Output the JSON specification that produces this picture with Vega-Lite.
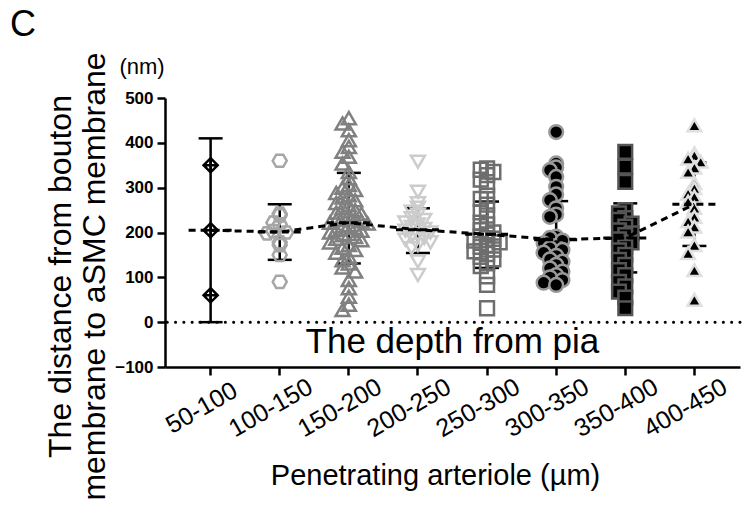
{
  "$schema": "https://vega.github.io/schema/vega-lite/v6.json",
  "width": 575,
  "height": 269,
  "autosize": "none",
  "padding": {"left": 165, "top": 98, "right": 7, "bottom": 139},
  "background": "white",
  "title": {"text": "C", "anchor": "start", "frame": "group", "fontSize": 36, "fontWeight": "normal", "color": "black", "dx": -155, "dy": -8, "offset": 0},
  "config": {
    "view": {"stroke": null},
    "font": "Liberation Sans",
    "axis": {"grid": false, "domainColor": "black", "domainWidth": 2.5, "tickColor": "black", "tickWidth": 2.5, "tickSize": 8, "labelColor": "black", "titleColor": "black", "titleFontWeight": "normal"}
  },
  "datasets": {
    "points": [
      {"cat": "50-100", "v": 60}, {"cat": "50-100", "v": 205}, {"cat": "50-100", "v": 350},
      {"cat": "100-150", "v": 360}, {"cat": "100-150", "v": 242}, {"cat": "100-150", "v": 238}, {"cat": "100-150", "v": 222}, {"cat": "100-150", "v": 218}, {"cat": "100-150", "v": 203}, {"cat": "100-150", "v": 200}, {"cat": "100-150", "v": 198}, {"cat": "100-150", "v": 178}, {"cat": "100-150", "v": 172}, {"cat": "100-150", "v": 150}, {"cat": "100-150", "v": 90},
      {"cat": "150-200", "v": 455}, {"cat": "150-200", "v": 443}, {"cat": "150-200", "v": 428}, {"cat": "150-200", "v": 406}, {"cat": "150-200", "v": 391}, {"cat": "150-200", "v": 380}, {"cat": "150-200", "v": 369}, {"cat": "150-200", "v": 354}, {"cat": "150-200", "v": 335}, {"cat": "150-200", "v": 321}, {"cat": "150-200", "v": 306}, {"cat": "150-200", "v": 300}, {"cat": "150-200", "v": 295}, {"cat": "150-200", "v": 288}, {"cat": "150-200", "v": 283}, {"cat": "150-200", "v": 278}, {"cat": "150-200", "v": 272}, {"cat": "150-200", "v": 266}, {"cat": "150-200", "v": 261}, {"cat": "150-200", "v": 255}, {"cat": "150-200", "v": 250}, {"cat": "150-200", "v": 245}, {"cat": "150-200", "v": 242}, {"cat": "150-200", "v": 239}, {"cat": "150-200", "v": 234}, {"cat": "150-200", "v": 230}, {"cat": "150-200", "v": 228}, {"cat": "150-200", "v": 225}, {"cat": "150-200", "v": 222}, {"cat": "150-200", "v": 220}, {"cat": "150-200", "v": 217}, {"cat": "150-200", "v": 214}, {"cat": "150-200", "v": 210}, {"cat": "150-200", "v": 206}, {"cat": "150-200", "v": 204}, {"cat": "150-200", "v": 200}, {"cat": "150-200", "v": 197}, {"cat": "150-200", "v": 194}, {"cat": "150-200", "v": 190}, {"cat": "150-200", "v": 186}, {"cat": "150-200", "v": 183}, {"cat": "150-200", "v": 178}, {"cat": "150-200", "v": 172}, {"cat": "150-200", "v": 166}, {"cat": "150-200", "v": 161}, {"cat": "150-200", "v": 155}, {"cat": "150-200", "v": 146}, {"cat": "150-200", "v": 138}, {"cat": "150-200", "v": 131}, {"cat": "150-200", "v": 122}, {"cat": "150-200", "v": 113}, {"cat": "150-200", "v": 94}, {"cat": "150-200", "v": 76}, {"cat": "150-200", "v": 57}, {"cat": "150-200", "v": 39}, {"cat": "150-200", "v": 27},
      {"cat": "200-250", "v": 358}, {"cat": "200-250", "v": 291}, {"cat": "200-250", "v": 265}, {"cat": "200-250", "v": 255}, {"cat": "200-250", "v": 246}, {"cat": "200-250", "v": 240}, {"cat": "200-250", "v": 232}, {"cat": "200-250", "v": 228}, {"cat": "200-250", "v": 222}, {"cat": "200-250", "v": 218}, {"cat": "200-250", "v": 212}, {"cat": "200-250", "v": 208}, {"cat": "200-250", "v": 204}, {"cat": "200-250", "v": 200}, {"cat": "200-250", "v": 196}, {"cat": "200-250", "v": 192}, {"cat": "200-250", "v": 188}, {"cat": "200-250", "v": 184}, {"cat": "200-250", "v": 178}, {"cat": "200-250", "v": 172}, {"cat": "200-250", "v": 165}, {"cat": "200-250", "v": 135}, {"cat": "200-250", "v": 105},
      {"cat": "250-300", "v": 343}, {"cat": "250-300", "v": 340}, {"cat": "250-300", "v": 335}, {"cat": "250-300", "v": 328}, {"cat": "250-300", "v": 318}, {"cat": "250-300", "v": 305}, {"cat": "250-300", "v": 282}, {"cat": "250-300", "v": 275}, {"cat": "250-300", "v": 262}, {"cat": "250-300", "v": 245}, {"cat": "250-300", "v": 238}, {"cat": "250-300", "v": 222}, {"cat": "250-300", "v": 218}, {"cat": "250-300", "v": 205}, {"cat": "250-300", "v": 200}, {"cat": "250-300", "v": 196}, {"cat": "250-300", "v": 190}, {"cat": "250-300", "v": 186}, {"cat": "250-300", "v": 182}, {"cat": "250-300", "v": 178}, {"cat": "250-300", "v": 172}, {"cat": "250-300", "v": 168}, {"cat": "250-300", "v": 162}, {"cat": "250-300", "v": 158}, {"cat": "250-300", "v": 152}, {"cat": "250-300", "v": 146}, {"cat": "250-300", "v": 140}, {"cat": "250-300", "v": 131}, {"cat": "250-300", "v": 125}, {"cat": "250-300", "v": 102}, {"cat": "250-300", "v": 83}, {"cat": "250-300", "v": 31},
      {"cat": "300-350", "v": 424}, {"cat": "300-350", "v": 354}, {"cat": "300-350", "v": 345}, {"cat": "300-350", "v": 339}, {"cat": "300-350", "v": 324}, {"cat": "300-350", "v": 302}, {"cat": "300-350", "v": 285}, {"cat": "300-350", "v": 272}, {"cat": "300-350", "v": 254}, {"cat": "300-350", "v": 240}, {"cat": "300-350", "v": 235}, {"cat": "300-350", "v": 191}, {"cat": "300-350", "v": 188}, {"cat": "300-350", "v": 182}, {"cat": "300-350", "v": 176}, {"cat": "300-350", "v": 170}, {"cat": "300-350", "v": 165}, {"cat": "300-350", "v": 161}, {"cat": "300-350", "v": 155}, {"cat": "300-350", "v": 148}, {"cat": "300-350", "v": 140}, {"cat": "300-350", "v": 135}, {"cat": "300-350", "v": 128}, {"cat": "300-350", "v": 120}, {"cat": "300-350", "v": 113}, {"cat": "300-350", "v": 105}, {"cat": "300-350", "v": 100}, {"cat": "300-350", "v": 94}, {"cat": "300-350", "v": 88}, {"cat": "300-350", "v": 83},
      {"cat": "350-400", "v": 380}, {"cat": "350-400", "v": 347}, {"cat": "350-400", "v": 313}, {"cat": "350-400", "v": 250}, {"cat": "350-400", "v": 243}, {"cat": "350-400", "v": 232}, {"cat": "350-400", "v": 228}, {"cat": "350-400", "v": 220}, {"cat": "350-400", "v": 213}, {"cat": "350-400", "v": 205}, {"cat": "350-400", "v": 198}, {"cat": "350-400", "v": 194}, {"cat": "350-400", "v": 185}, {"cat": "350-400", "v": 178}, {"cat": "350-400", "v": 168}, {"cat": "350-400", "v": 160}, {"cat": "350-400", "v": 150}, {"cat": "350-400", "v": 139}, {"cat": "350-400", "v": 128}, {"cat": "350-400", "v": 116}, {"cat": "350-400", "v": 105}, {"cat": "350-400", "v": 90}, {"cat": "350-400", "v": 80}, {"cat": "350-400", "v": 68}, {"cat": "350-400", "v": 55}, {"cat": "350-400", "v": 31},
      {"cat": "400-450", "v": 439}, {"cat": "400-450", "v": 377}, {"cat": "400-450", "v": 372}, {"cat": "400-450", "v": 365}, {"cat": "400-450", "v": 358}, {"cat": "400-450", "v": 345}, {"cat": "400-450", "v": 335}, {"cat": "400-450", "v": 310}, {"cat": "400-450", "v": 299}, {"cat": "400-450", "v": 287}, {"cat": "400-450", "v": 280}, {"cat": "400-450", "v": 269}, {"cat": "400-450", "v": 255}, {"cat": "400-450", "v": 235}, {"cat": "400-450", "v": 225}, {"cat": "400-450", "v": 213}, {"cat": "400-450", "v": 202}, {"cat": "400-450", "v": 172}, {"cat": "400-450", "v": 154}, {"cat": "400-450", "v": 116}, {"cat": "400-450", "v": 50}
    ],
    "summary": [
      {"cat": "50-100", "mean": 205, "lo": 0, "hi": 410},
      {"cat": "100-150", "mean": 201, "lo": 139, "hi": 263},
      {"cat": "150-200", "mean": 222, "lo": 131, "hi": 333},
      {"cat": "200-250", "mean": 206, "lo": 154, "hi": 254},
      {"cat": "250-300", "mean": 196, "lo": 121, "hi": 269},
      {"cat": "300-350", "mean": 184, "lo": 98, "hi": 270},
      {"cat": "350-400", "mean": 188, "lo": 111, "hi": 265},
      {"cat": "400-450", "mean": 263, "lo": 170, "hi": 356}
    ]
  },
  "layer": [
    {
      "data": {"values": [{}]},
      "mark": {"type": "rule", "color": "black", "strokeWidth": 3, "strokeDash": [0.1, 8.2], "strokeCap": "round"},
      "encoding": {"y": {"datum": 0, "type": "quantitative"}}
    },
    {
      "data": {"name": "summary"},
      "mark": {"type": "rule", "color": "black", "strokeWidth": 2.5},
      "encoding": {
        "x": {"field": "cat", "type": "nominal"},
        "y": {"field": "lo", "type": "quantitative"},
        "y2": {"field": "hi"}
      }
    },
    {
      "data": {"name": "summary"},
      "mark": {"type": "tick", "color": "black", "size": 24, "thickness": 2.5, "opacity": 1},
      "encoding": {"x": {"field": "cat", "type": "nominal"}, "y": {"field": "hi", "type": "quantitative"}}
    },
    {
      "data": {"name": "summary"},
      "mark": {"type": "tick", "color": "black", "size": 24, "thickness": 2.5, "opacity": 1},
      "encoding": {"x": {"field": "cat", "type": "nominal"}, "y": {"field": "lo", "type": "quantitative"}}
    },
    {
      "data": {"name": "points"},
      "transform": [
        {"bin": {"step": 22, "anchor": 0}, "field": "v", "as": "vb"},
        {"window": [{"op": "row_number", "as": "slot"}], "groupby": ["cat", "vb"]}
      ],
      "mark": {"type": "point", "strokeWidth": 2.5, "opacity": 1},
      "encoding": {
        "x": {
          "field": "cat", "type": "nominal",
          "scale": {"domain": ["50-100", "100-150", "150-200", "200-250", "250-300", "300-350", "350-400", "400-450"], "paddingInner": 0, "paddingOuter": 0.16},
          "axis": {"labelAngle": -30, "labelAlign": "center", "labelBaseline": "top", "labelFontSize": 25, "labelPadding": 22, "labelOffset": -15, "title": "Penetrating arteriole (µm)", "titleFontSize": 29, "titleX": 270, "titleY": 117, "titleAlign": "center", "titleBaseline": "alphabetic"}
        },
        "xOffset": {"field": "slot", "type": "ordinal", "scale": {"domain": [10, 8, 6, 4, 2, 1, 3, 5, 7, 9, 11], "paddingInner": 0, "paddingOuter": 0.5}},
        "y": {
          "field": "v", "type": "quantitative",
          "scale": {"domain": [-100, 500], "nice": false, "zero": false},
          "axis": {"values": [-100, 0, 100, 200, 300, 400, 500], "labelFontSize": 17, "labelFontWeight": "bold", "labelPadding": 4, "title": ["The distance from bouton", "membrane to aSMC membrane"], "titleFontSize": 32, "titleLineHeight": 34, "titleAngle": -90, "titleAlign": "center", "titleBaseline": "alphabetic", "titleX": -95, "titleY": 178}
        },
        "shape": {"field": "cat", "type": "nominal", "legend": null, "scale": {"domain": ["50-100", "100-150", "150-200", "200-250", "250-300", "300-350", "350-400", "400-450"], "range": ["M0,-1L1,0L0,1L-1,0ZM0,-1L0,1M-1,0L1,0", "M-1,0L-0.5,-0.866L0.5,-0.866L1,0L0.5,0.866L-0.5,0.866Z", "triangle-up", "triangle-down", "square", "circle", "square", "triangle-up"]}},
        "stroke": {"field": "cat", "type": "nominal", "legend": null, "scale": {"domain": ["50-100", "100-150", "150-200", "200-250", "250-300", "300-350", "350-400", "400-450"], "range": ["#000000", "#a6a6a6", "#808080", "#cccccc", "#6e6e6e", "#999999", "#555555", "#e0e0e0"]}},
        "fill": {"field": "cat", "type": "nominal", "legend": null, "scale": {"domain": ["50-100", "100-150", "150-200", "200-250", "250-300", "300-350", "350-400", "400-450"], "range": ["transparent", "transparent", "transparent", "transparent", "transparent", "#000000", "#000000", "#000000"]}},
        "size": {"field": "cat", "type": "nominal", "legend": null, "scale": {"domain": ["50-100", "100-150", "150-200", "200-250", "250-300", "300-350", "350-400", "400-450"], "range": [200, 185, 210, 200, 225, 190, 260, 230]}}
      }
    },
    {
      "data": {"name": "summary"},
      "mark": {"type": "rule", "color": "black", "strokeWidth": 3, "strokeDash": [7, 5], "xOffset": -22, "x2Offset": 22},
      "encoding": {"x": {"field": "cat", "type": "nominal"}, "x2": {"field": "cat"}, "y": {"field": "mean", "type": "quantitative"}}
    },
    {
      "data": {"name": "summary"},
      "mark": {"type": "line", "color": "black", "strokeWidth": 3, "strokeDash": [7, 5]},
      "encoding": {"x": {"field": "cat", "type": "nominal"}, "y": {"field": "mean", "type": "quantitative"}}
    },
    {
      "data": {"values": [{}]},
      "mark": {"type": "text", "text": "The depth from pia", "fontSize": 35, "align": "center", "baseline": "alphabetic", "dx": 34.5, "color": "black"},
      "encoding": {"x": {"datum": "200-250", "type": "nominal"}, "y": {"datum": -69, "type": "quantitative"}}
    },
    {
      "data": {"values": [{}]},
      "mark": {"type": "text", "text": "(nm)", "fontSize": 22, "align": "center", "baseline": "middle", "dx": -68.6, "color": "black"},
      "encoding": {"x": {"datum": "50-100", "type": "nominal"}, "y": {"datum": 569, "type": "quantitative"}}
    }
  ]
}
